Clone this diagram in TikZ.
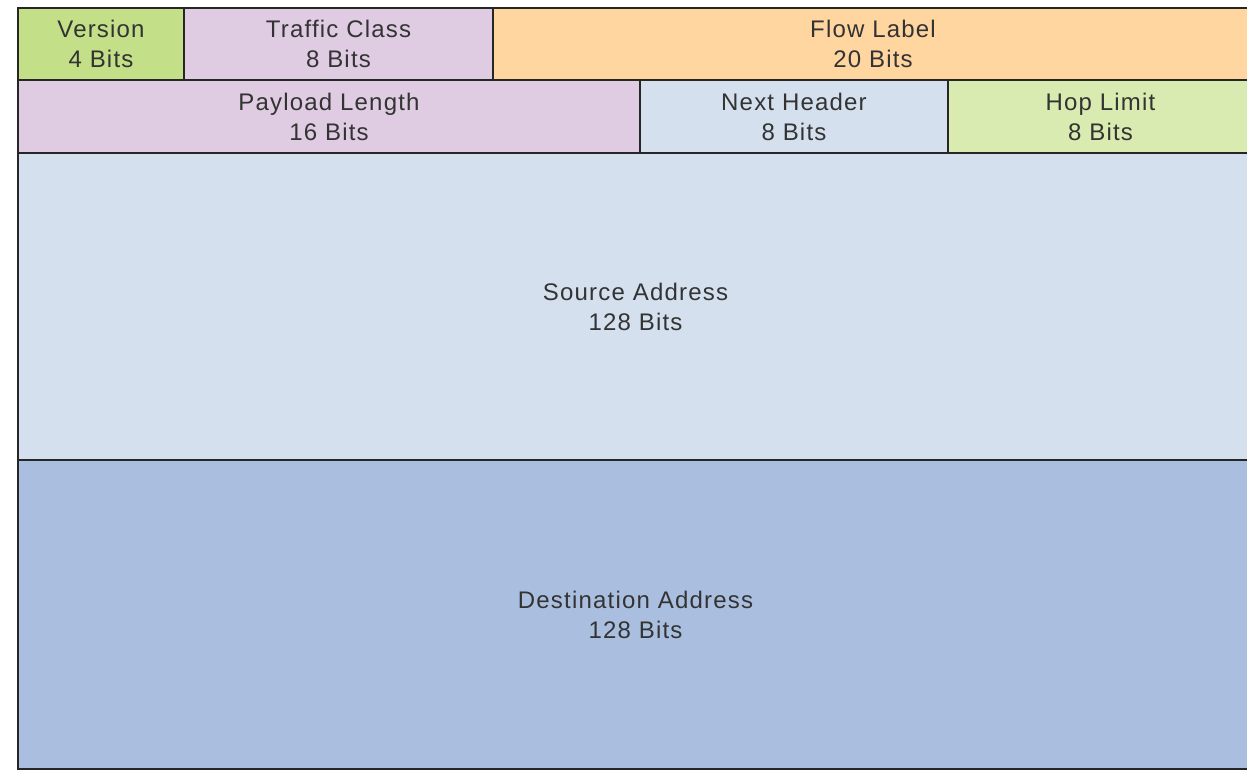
\documentclass[tikz,border=0pt]{standalone}
\usepackage{fontspec}
\setmainfont{Liberation Sans}[LetterSpace=5]

\definecolor{verGreen}{HTML}{C3DF88}
\definecolor{lilac}{HTML}{DFCBE2}
\definecolor{flowOrange}{HTML}{FFD5A0}
\definecolor{paleBlue}{HTML}{D4E0EE}
\definecolor{hopGreen}{HTML}{D9EBB0}
\definecolor{destBlue}{HTML}{AABFE0}

\begin{document}
\begin{tikzpicture}[x=0.5pt, y=-0.5pt,
    field/.style={draw=black!85, line width=1.4pt, anchor=north west,
        inner sep=0pt, outer sep=0pt, align=center, text=black!80,
        font=\fontsize{12}{15}\selectfont}]
    \useasboundingbox (0, 0) rectangle (1247, 771);

    % header fields: left/top/width/height/colour/name/bits/id
    \foreach \nx/\ny/\nw/\nh/\col/\txt/\bits/\id in {
        18/8/166/72/verGreen/Version/4/ver,
        184/8/309/72/lilac/Traffic Class/8/tclass,
        493/8/760/72/flowOrange/Flow Label/20/flow,
        18/80/622/73/lilac/Payload Length/16/payload,
        640/80/308/73/paleBlue/Next Header/8/next,
        948/80/305/73/hopGreen/Hop Limit/8/hop,
        18/153/1235/307/paleBlue/Source Address/128/src,
        18/460/1235/309/destBlue/Destination Address/128/dst} {
        \node[field, fill=\col, minimum width=\nw*0.5pt,
            minimum height=\nh*0.5pt] (\id) at (\nx, \ny) {\txt\\\bits{} Bits};
    }
\end{tikzpicture}
\end{document}
